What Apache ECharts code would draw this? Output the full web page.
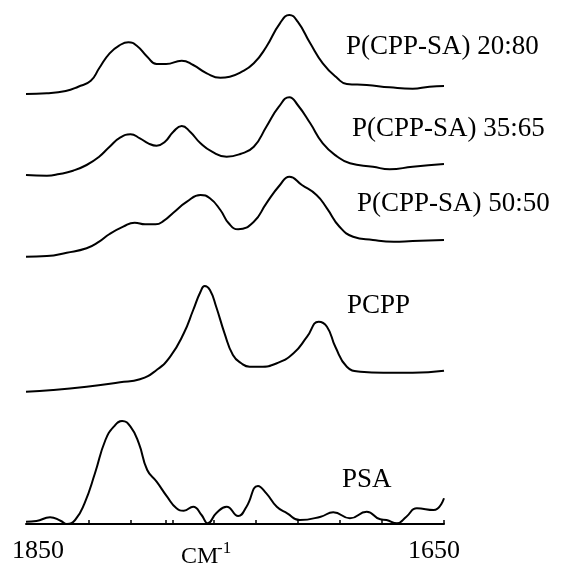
<!DOCTYPE html>
<html>
<head>
<meta charset="utf-8">
<title>IR spectra</title>
<script src="https://cdn.jsdelivr.net/npm/echarts@6/dist/echarts.min.js"></script>
<style>
html, body { margin: 0; padding: 0; background: #fff; }
#chart { width: 566px; height: 565px; }
</style>
</head>
<body>
<div id="chart"></div>
<script>
// trace names, top to bottom
var names = ['P(CPP-SA) 20:80', 'P(CPP-SA) 35:65', 'P(CPP-SA) 50:50', 'PCPP', 'PSA'];

// wavenumber (cm-1) / absorbance (arb. units)
var wn2080 = [1850, 1840, 1831, 1825, 1819, 1815, 1810, 1805, 1801, 1797, 1792, 1787.5, 1783, 1775.5, 1770, 1763.5, 1757, 1752.5, 1747.5, 1741, 1735, 1728.5, 1724, 1720, 1714, 1708, 1701, 1696.5, 1687, 1676, 1665, 1657, 1650];
var ab2080 = [6, 6.7, 9, 13.3, 19.3, 31.7, 46.7, 55, 57.7, 54.3, 43.3, 36, 36, 39.3, 35, 26.7, 22.3, 23.3, 27.3, 36.7, 53.3, 76.7, 85, 78.3, 56.7, 36.7, 21.7, 16, 15, 12.7, 11.3, 13.3, 14];

var wn3565 = [1850, 1840, 1834, 1827.5, 1821, 1815, 1810, 1805, 1800, 1795.5, 1791.5, 1787.5, 1783.5, 1779.5, 1775.5, 1771.5, 1766.5, 1761, 1754, 1747.5, 1741, 1735, 1729, 1724, 1720, 1714, 1708, 1701, 1695, 1684, 1676, 1665, 1650];
var ab3565 = [5, 4.3, 6, 9.3, 15, 23.3, 33.3, 42.3, 45.7, 41.7, 36.7, 34.3, 38.3, 48.3, 54, 48.3, 36.7, 28.3, 23.3, 26, 33.3, 53.3, 73.3, 82.7, 75, 56.7, 36.7, 23.3, 16.7, 13.3, 10.7, 13.3, 16];

var wn5050 = [1850, 1840, 1830.5, 1821, 1815, 1810, 1803.5, 1798, 1793, 1788, 1784, 1779.5, 1773, 1766.5, 1762, 1757, 1753, 1748.5, 1741, 1735, 1728.5, 1724, 1718, 1711, 1706, 1700, 1693.5, 1684, 1674, 1665, 1650];
var ab5050 = [3.3, 4, 7.3, 11.7, 18.3, 26, 33.3, 37.3, 35.7, 35.7, 39.3, 47.3, 58.3, 65, 61.7, 50, 36.7, 30.7, 38.3, 56.7, 75, 83.3, 75, 65, 51.7, 33.3, 23.3, 20, 18.3, 19, 20];

var wnPcpp = [1850, 1837, 1821, 1805, 1795.5, 1787.5, 1781, 1774.5, 1770, 1766.5, 1764.5, 1762, 1759, 1755, 1751, 1747, 1743, 1738, 1730, 1722, 1715.5, 1710, 1706, 1702, 1696.5, 1690, 1679, 1665, 1650];
var abPcpp = [3.3, 5, 8.3, 12.7, 15.7, 25, 38.3, 61.7, 85, 103.3, 109, 105, 88.3, 61.7, 40, 31.7, 28.3, 28.3, 31.7, 41.7, 58.3, 73.3, 68.3, 48.3, 28.3, 23.3, 22.3, 22.3, 24.3];

var wnPsa = [1850, 1845, 1838.5, 1833.5, 1830.5, 1826.5, 1822, 1817, 1812, 1808, 1804, 1800, 1796, 1792, 1787.5, 1782.5, 1778, 1774.5, 1770, 1766, 1763, 1759, 1754, 1748.5, 1744.5, 1739, 1735, 1730, 1725, 1719, 1709, 1703, 1695, 1687, 1680.5, 1677.5, 1672.5, 1668, 1663, 1655, 1650];
var abPsa = [2.3, 3, 6.7, 3.3, 0, 4, 20.7, 50.7, 84, 97.3, 103, 97.3, 80.7, 54, 42.3, 27.3, 15.7, 13.3, 17.3, 9, 0.7, 10.7, 17.3, 8, 17.3, 38, 30.7, 17.3, 10.7, 4, 7.3, 11.7, 5.7, 12.3, 4.7, 4, 0.7, 7.3, 15.7, 14, 25.7];

// axis ticks and labels
var tickValues = [1820, 1800, 1783, 1780, 1760, 1740, 1720, 1700, 1680, 1650];
var xLabels = [1850, 1650];

var traces = [
    [wn2080, ab2080],
    [wn3565, ab3565],
    [wn5050, ab5050],
    [wnPcpp, abPcpp],
    [wnPsa, abPsa]
];

// layout of the stacked panels
var panelTop = [0, 80, 160, 275, 404];
var panelHeight = [100, 100, 100, 120, 120];
var labelPos = [[346, 47], [352, 129], [357, 204], [347, 306], [342, 480]];

var serif = '"Liberation Serif", "DejaVu Serif", serif';

var grids = [], xAxes = [], yAxes = [], series = [];
for (var i = 0; i < traces.length; i++) {
    var last = i === traces.length - 1;
    grids.push({
        left: 26, right: 122, top: panelTop[i], height: panelHeight[i],
        containLabel: false, outerBoundsMode: 'none'
    });
    xAxes.push({
        type: 'value', gridIndex: i, min: 1650, max: 1850, inverse: true,
        show: last,
        splitLine: { show: false },
        axisLine: { show: last, lineStyle: { color: '#000', width: 2 } },
        axisTick: {
            show: last, inside: true, length: 4, customValues: tickValues,
            lineStyle: { color: '#000', width: 1.5 }
        },
        axisLabel: {
            show: last, customValues: xLabels, margin: 14, color: '#000',
            hideOverlap: false,
            formatter: function (v) {
                return v === xLabels[0] ? '{l|' + v + '}' : '{r|' + v + '}';
            },
            rich: {
                l: { fontFamily: serif, fontSize: 26, lineHeight: 26, color: '#000', padding: [0, 0, 0, 24] },
                r: { fontFamily: serif, fontSize: 26, lineHeight: 26, color: '#000', padding: [0, 20, 0, 0] }
            }
        }
    });
    yAxes.push({ type: 'value', gridIndex: i, min: 0, max: panelHeight[i], show: false });
    var pts = traces[i][0].map(function (w, k) { return [w, traces[i][1][k]]; });
    series.push({
        name: names[i], type: 'line', xAxisIndex: i, yAxisIndex: i,
        data: pts, smooth: 0.5, showSymbol: false, clip: false,
        lineStyle: { color: '#000', width: 2 }, silent: true
    });
}

var graphics = names.map(function (n, i) {
    return {
        type: 'text', x: labelPos[i][0], y: labelPos[i][1],
        style: {
            text: n, font: '27px ' + serif, fill: '#000',
            align: 'left', verticalAlign: 'middle',
            textAlign: 'left', textVerticalAlign: 'middle'
        }
    };
});
graphics.push({
    type: 'text', x: 181, y: 557,
    style: { text: 'CM', font: '24px ' + serif, fill: '#000', align: 'left', verticalAlign: 'middle', textAlign: 'left', textVerticalAlign: 'middle' }
});
graphics.push({
    type: 'text', x: 217, y: 549,
    style: { text: '-1', font: '17px ' + serif, fill: '#000', align: 'left', verticalAlign: 'middle', textAlign: 'left', textVerticalAlign: 'middle' }
});

var chart = echarts.init(document.getElementById('chart'));
chart.setOption({
    backgroundColor: '#fff',
    animation: false,
    grid: grids,
    xAxis: xAxes,
    yAxis: yAxes,
    series: series,
    graphic: graphics
});
</script>
</body>
</html>
